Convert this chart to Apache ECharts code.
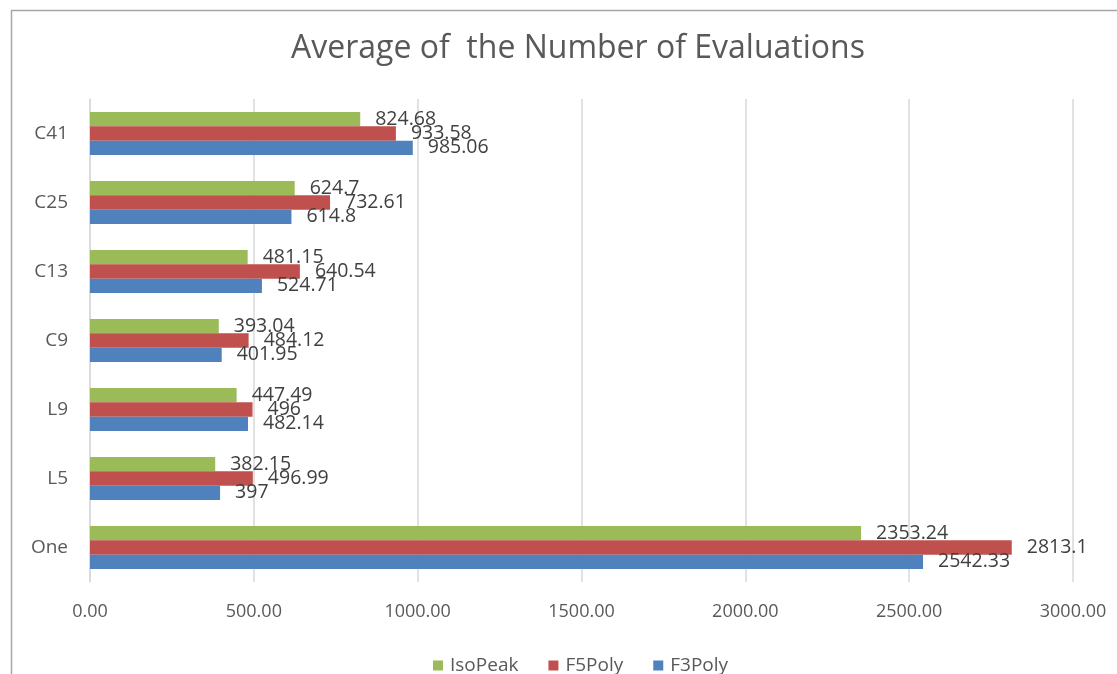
<!DOCTYPE html>
<html>
<head>
<meta charset="utf-8">
<script src="https://cdn.jsdelivr.net/npm/echarts@6/dist/echarts.min.js"></script>
<style>html,body{margin:0;padding:0;background:#fff}#c{width:1117px;height:674px}</style>
</head>
<body>
<div id="c"></div>
<script>
const categories = ['One', 'L5', 'L9', 'C9', 'C13', 'C25', 'C41'];
const isoPeak = [2353.24, 382.15, 447.49, 393.04, 481.15, 624.7, 824.68];
const f5Poly = [2813.1, 496.99, 496, 484.12, 640.54, 732.61, 933.58];
const f3Poly = [2542.33, 397, 482.14, 401.95, 524.71, 614.8, 985.06];
const xTicks = [0, 500, 1000, 1500, 2000, 2500, 3000];

const chart = echarts.init(document.getElementById('c'));
const FONT = 'Open Sans';
const label = { show: true, position: 'right', distance: 15, color: '#404040', fontSize: 19.5, fontFamily: FONT };
chart.setOption({
  animation: false,
  textStyle: { fontFamily: FONT },
  title: {
    text: 'Average of  the Number of Evaluations',
    left: 286, top: 28,
    textStyle: { color: '#595959', fontSize: 32, fontWeight: 'normal', fontFamily: FONT }
  },
  graphic: [{
    type: 'rect', left: 9, top: 8, silent: true,
    shape: { width: 1130, height: 690 },
    style: { fill: 'none', stroke: '#A6A6A6', lineWidth: 1.5 }
  }],
  legend: {
    top: 651, left: 428, itemWidth: 10, itemHeight: 10, itemGap: 30,
    icon: 'rect',
    data: ['IsoPeak', 'F5Poly', 'F3Poly'],
    textStyle: { color: '#595959', fontSize: 19, fontFamily: FONT, padding: [0, 0, 0, 2] }
  },
  grid: { left: 90, right: 44, top: 99, bottom: 92, containLabel: false },
  xAxis: {
    type: 'value', min: xTicks[0], max: xTicks[xTicks.length - 1], interval: 500,
    axisLine: { show: false }, axisTick: { show: false },
    splitLine: { lineStyle: { color: '#D9D9D9', width: 1.5 } },
    axisLabel: { color: '#595959', fontSize: 18, margin: 21, formatter: v => v.toFixed(2), fontFamily: FONT }
  },
  yAxis: {
    type: 'category', data: categories,
    axisLine: { show: true, lineStyle: { color: '#D9D9D9', width: 1.5 } },
    axisTick: { show: false },
    axisLabel: { color: '#595959', fontSize: 19, margin: 22, fontFamily: FONT }
  },
  series: [
    { name: 'IsoPeak', type: 'bar', data: isoPeak, itemStyle: { color: '#9BBB59' }, barGap: '0%', barCategoryGap: '38%', label },
    { name: 'F5Poly', type: 'bar', data: f5Poly, itemStyle: { color: '#C0504D' }, barGap: '0%', barCategoryGap: '38%', label },
    { name: 'F3Poly', type: 'bar', data: f3Poly, itemStyle: { color: '#4F81BD' }, barGap: '0%', barCategoryGap: '38%', label }
  ]
});
</script>
</body>
</html>
